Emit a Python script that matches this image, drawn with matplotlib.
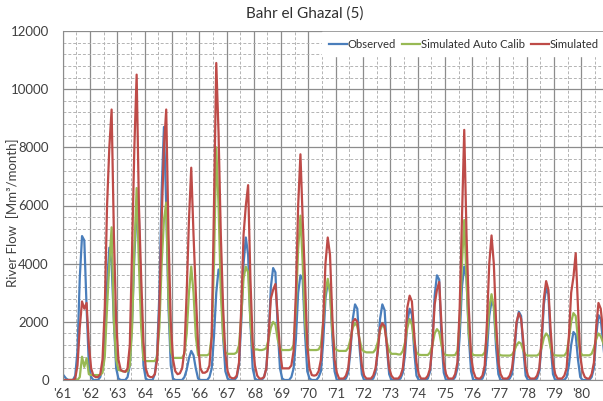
import numpy as np
import matplotlib.pyplot as plt
from matplotlib.ticker import MultipleLocator, FixedLocator

# monthly river flow, Mm3/month, Jan..Dec for each year 1961-1980
years = list(range(1961, 1981))

observed = [
    [150, 50, 0, 0, 0, 150, 1000, 3500, 4950, 4800, 2500, 500],
    [100, 0, 0, 0, 100, 400, 1500, 3300, 4550, 4000, 2000, 400],
    [50, 0, 0, 0, 100, 500, 2000, 4300, 5800, 5600, 2500, 500],
    [50, 0, 0, 0, 200, 900, 3000, 6500, 8700, 6000, 2500, 500],
    [50, 0, 0, 0, 0, 100, 350, 750, 1000, 850, 400, 50],
    [0, 0, 0, 0, 100, 400, 1500, 3000, 3800, 3600, 1500, 300],
    [50, 0, 0, 0, 100, 500, 2000, 4000, 4900, 4300, 2000, 400],
    [50, 0, 0, 0, 100, 400, 1500, 3200, 3850, 3700, 1800, 400],
    [50, 0, 0, 0, 100, 400, 1400, 3000, 3600, 3450, 1600, 300],
    [50, 0, 0, 0, 100, 300, 1300, 2800, 3350, 3100, 1500, 300],
    [0, 0, 0, 0, 50, 250, 1000, 2100, 2600, 2450, 1100, 200],
    [0, 0, 0, 0, 50, 250, 1000, 2100, 2600, 2400, 1100, 200],
    [0, 0, 0, 0, 50, 250, 900, 2000, 2450, 2250, 1000, 150],
    [0, 0, 0, 0, 50, 300, 1300, 2900, 3600, 3450, 1400, 250],
    [0, 0, 0, 0, 100, 400, 1500, 3200, 3900, 3500, 1500, 300],
    [0, 0, 0, 0, 50, 250, 1000, 2200, 2700, 2550, 1100, 200],
    [0, 0, 0, 0, 50, 200, 900, 1900, 2350, 2200, 1000, 150],
    [0, 0, 0, 0, 50, 300, 1200, 2600, 3150, 2950, 1200, 200],
    [0, 0, 0, 0, 0, 100, 500, 1200, 1650, 1550, 700, 100],
    [0, 0, 0, 0, 100, 400, 1500, 2230, 2100, 1300, 500, 100],
]

auto_calib = [
    [0, 0, 0, 0, 0, 0, 0, 100, 800, 450, 750, 200],
    [170, 170, 170, 170, 170, 250, 800, 2500, 4000, 5250, 2000, 700],
    [350, 320, 300, 300, 300, 500, 1800, 4500, 6600, 4000, 1800, 700],
    [650, 650, 650, 650, 650, 800, 1800, 4000, 5500, 6100, 2800, 1000],
    [760, 760, 760, 760, 760, 900, 1600, 3000, 3900, 3000, 1500, 850],
    [850, 850, 850, 850, 900, 1500, 4000, 8000, 6000, 3000, 1500, 950],
    [900, 900, 900, 900, 950, 1200, 2200, 3500, 3900, 3700, 2000, 1100],
    [1050, 1050, 1030, 1030, 1050, 1100, 1400, 1800, 2000, 1900, 1400, 1100],
    [1030, 1030, 1030, 1030, 1050, 1200, 2500, 4500, 5650, 4000, 2000, 1100],
    [1030, 1030, 1030, 1030, 1050, 1200, 2000, 3000, 3480, 3000, 1700, 1100],
    [1030, 1000, 1000, 1000, 1000, 1100, 1400, 1800, 1950, 1850, 1400, 1050],
    [980, 950, 950, 950, 950, 1050, 1300, 1700, 1900, 1800, 1300, 1000],
    [900, 900, 900, 880, 880, 1000, 1300, 1800, 2100, 1900, 1300, 950],
    [870, 860, 860, 860, 860, 950, 1200, 1600, 1750, 1650, 1200, 900],
    [860, 850, 850, 850, 860, 1000, 2000, 4000, 5500, 3500, 1600, 950],
    [860, 850, 850, 850, 850, 950, 1500, 2500, 2950, 2500, 1400, 900],
    [850, 840, 840, 840, 840, 870, 1000, 1200, 1300, 1250, 1000, 860],
    [840, 840, 840, 840, 840, 900, 1100, 1450, 1600, 1500, 1100, 860],
    [850, 840, 840, 840, 840, 950, 1400, 2000, 2300, 2200, 1400, 950],
    [850, 850, 850, 850, 900, 1100, 1400, 1600, 1500, 1300, 1000, 850],
]

simulated = [
    [0, 0, 0, 0, 0, 50, 500, 1800, 2700, 2450, 2650, 1200],
    [400, 150, 100, 100, 200, 700, 2500, 6000, 8000, 9300, 5000, 2000],
    [700, 350, 300, 280, 400, 1200, 4500, 8000, 10500, 6000, 3500, 1300],
    [400, 150, 100, 100, 200, 700, 2500, 5500, 8000, 9300, 5000, 2000],
    [700, 300, 200, 230, 400, 1000, 3000, 5500, 7300, 5000, 3000, 1200],
    [400, 250, 250, 300, 500, 1500, 6000, 10900, 8500, 5000, 2500, 900],
    [300, 100, 60, 60, 150, 600, 2500, 5000, 6000, 6700, 3500, 1300],
    [500, 150, 50, 50, 100, 400, 1500, 2800, 3100, 3300, 2200, 1000],
    [400, 400, 400, 400, 500, 1000, 3000, 6000, 7760, 5500, 3500, 1200],
    [400, 170, 150, 170, 300, 700, 2000, 4000, 4900, 4300, 2200, 700],
    [250, 50, 50, 50, 150, 400, 1200, 2000, 2100, 2000, 1300, 500],
    [150, 50, 50, 50, 150, 400, 1000, 1800, 1950, 1850, 1200, 400],
    [150, 50, 50, 50, 150, 400, 1200, 2500, 2900, 2700, 1600, 600],
    [200, 50, 50, 50, 150, 400, 1200, 2600, 3100, 3370, 1900, 600],
    [200, 50, 50, 50, 200, 600, 2500, 5500, 8600, 5000, 2500, 800],
    [300, 80, 50, 50, 150, 500, 2000, 4000, 4970, 4000, 2000, 600],
    [200, 50, 50, 50, 150, 400, 1100, 2000, 2300, 2100, 1300, 450],
    [150, 50, 50, 50, 150, 400, 1400, 2800, 3400, 3100, 1700, 600],
    [200, 50, 50, 50, 150, 400, 1500, 3000, 3540, 4360, 2500, 800],
    [300, 100, 50, 50, 200, 600, 1800, 2650, 2450, 1700, 800, 300],
]

year_labels = ["'%02d" % (y % 100) for y in years]

obs = np.array(observed).ravel()
auto = np.array(auto_calib).ravel()
sim = np.array(simulated).ravel()
months = np.arange(len(obs)) + 0.5   # points sit in the middle of each month

plt.rcParams['font.family'] = ['Lato', 'DejaVu Sans']
fig = plt.figure(figsize=(6.03, 4.01), dpi=100)
ax = fig.add_axes([62.7 / 603, 21 / 401, 546 / 603, 349 / 401])

ax.plot(months, obs, color='#4a7ebb', lw=1.6, label='Observed')
ax.plot(months, auto, color='#98b954', lw=1.6, label='Simulated Auto Calib')
ax.plot(months, sim, color='#be4b48', lw=1.6, label='Simulated')

ax.set_xlim(0, 240)
ax.set_ylim(0, 12000)
ax.xaxis.set_major_locator(FixedLocator(np.arange(0, 240, 12)))
ax.xaxis.set_minor_locator(FixedLocator(np.arange(6, 240, 12)))
ax.set_xticklabels(year_labels)
ax.yaxis.set_major_locator(MultipleLocator(2000))
ax.yaxis.set_minor_locator(MultipleLocator(400))

ax.grid(which='major', color='#8c8c8c', lw=0.9, ls='-')
ax.grid(which='minor', color='#b4b4b4', lw=0.7, ls=(0, (3, 2)))
ax.set_axisbelow(True)
for s in ['top', 'right']:
    ax.spines[s].set_visible(False)
for s in ['left', 'bottom']:
    ax.spines[s].set_color('#8c8c8c')
ax.tick_params(which='both', length=0, labelsize=9.5, colors='#404040')
ax.tick_params(axis='x', pad=6)
ax.tick_params(axis='y', pad=10)

fig.text(13 / 603, 1 - 213 / 401, 'River Flow  [Mm³/month]', rotation=90,
         ha='center', va='center', fontsize=9.5, color='#404040')
fig.text(0.505, 0.965, 'Bahr el Ghazal (5)', ha='center', va='center',
         fontsize=11, color='#303030')

leg = ax.legend(loc='center left', bbox_to_anchor=(322 / 603, 1 - 44 / 401),
                bbox_transform=fig.transFigure, ncol=3, frameon=True,
                fontsize=8.1, handlelength=1.6, handletextpad=0.1,
                columnspacing=0.5, borderpad=0.6, borderaxespad=0,
                fancybox=False)
leg.get_frame().set_facecolor('white')
leg.get_frame().set_edgecolor('white')
leg.get_frame().set_alpha(1)
for t in leg.get_texts():
    t.set_color('#303030')

fig.savefig('out.png', dpi=100)
